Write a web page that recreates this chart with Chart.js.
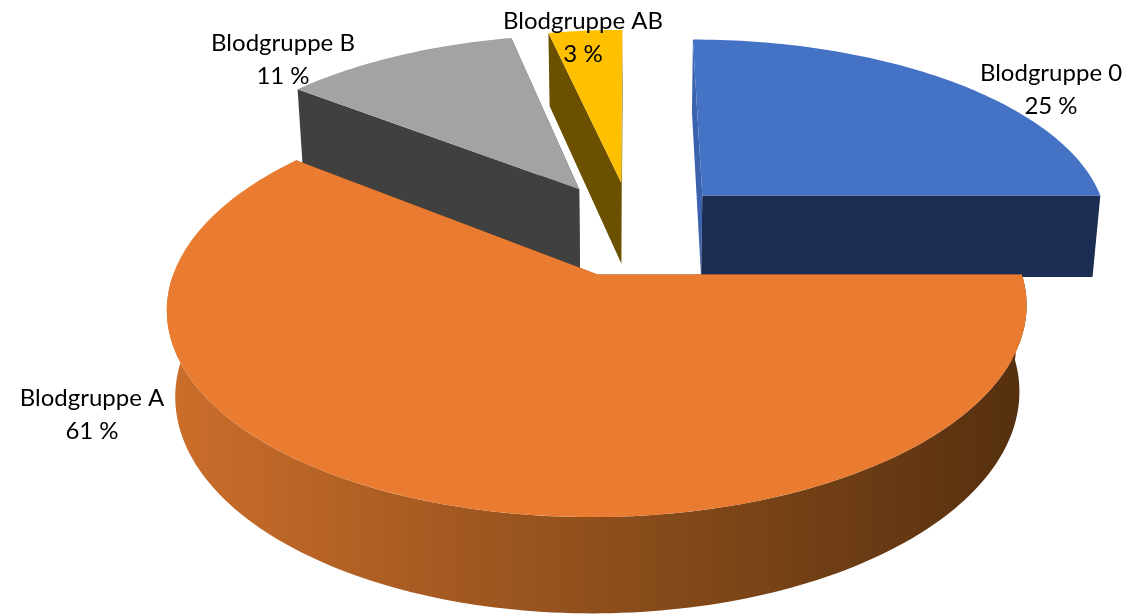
<!DOCTYPE html>
<html>
<head>
<meta charset="utf-8">
<title>Blodgrupper</title>
<script src="https://cdn.jsdelivr.net/npm/chart.js@4"></script>
<style>
  html, body { margin: 0; padding: 0; background: #fff; }
  canvas { display: block; }
</style>
</head>
<body>
<canvas id="myChart" width="1129" height="614"></canvas>
<script>
'use strict';
//data, slice sizes, labels show them rounded
const categories = ['Blodgruppe 0', 'Blodgruppe A', 'Blodgruppe B', 'Blodgruppe AB'];
const percentages = [25, 60.55, 11, 3.45];

//colors
const topColors = ['#4472c4', '#e97c30', '#a3a3a3', '#ffc000'];
const wallColors = ['#1b2d52', '#7a431a', '#404040', '#6b5000'];

//perspective of the 3d pie, fitted to the picture
const view = { cx: 596, cy: 275, vx: 630, focal: 424.5, depth: 204, height: 87, kz: 0.16, kh: 0.018 };
const pieCenter = { x: 0.085, z: 0.239 };
const explode = 0.25;

//label anchors (center of first line)
const labelSpots = [[1051, 73], [92, 398], [283, 43], [583, 21]];
const lineGap = 33;

//world point to screen point, h = 0 top face, h = 1 bottom
function project(x, z, h) {
  let w = 1 + view.kz * z + view.kh * h;
  return {
    x: view.vx + (view.cx + view.focal * x - view.vx) / w,
    y: view.cy + (view.height * h - view.depth * z) / w
  };
}

function rimPoints(c, a0, a1, h) {
  let pts = [];
  let steps = Math.max(2, Math.ceil((a1 - a0) / 0.02));
  for (let i = 0; i <= steps; i++) {
    let a = a0 + (a1 - a0) * i / steps;
    pts.push(project(c.x + Math.sin(a), c.z + Math.cos(a), h));
  }
  return pts;
}

function fillPoly(ctx, pts, fill) {
  ctx.beginPath();
  pts.forEach((p, i) => i ? ctx.lineTo(p.x, p.y) : ctx.moveTo(p.x, p.y));
  ctx.closePath();
  ctx.fillStyle = fill;
  ctx.fill();
}

function drawSlice(ctx, arc, i) {
  //library angles start at -90deg, make 0 the top of the pie
  let a0 = arc.startAngle + Math.PI / 2;
  let a1 = arc.endAngle + Math.PI / 2;
  let mid = (a0 + a1) / 2;
  let c = { x: pieCenter.x + explode * Math.sin(mid), z: pieCenter.z + explode * Math.cos(mid) };
  let wall = wallColors[i];
  if (i === 1) {
    //orange rim goes dark to the right
    wall = ctx.createLinearGradient(170, 0, 1020, 0);
    wall.addColorStop(0, '#cc6e2b');
    wall.addColorStop(0.5, '#8f4f1c');
    wall.addColorStop(1, '#56300f');
  }
  let center0 = project(c.x, c.z, 0);
  let center1 = project(c.x, c.z, 1);
  //side walls first, top goes over them
  [a0, a1].forEach(a => {
    let p0 = project(c.x + Math.sin(a), c.z + Math.cos(a), 0);
    let p1 = project(c.x + Math.sin(a), c.z + Math.cos(a), 1);
    //the blue sliver on the left catches the light
    fillPoly(ctx, [center0, p0, p1, center1], (i === 0 && a === a0) ? '#3a62ad' : wallColors[i]);
  });
  //outer rim only on the front half
  let r0 = Math.max(a0, Math.PI / 2);
  let r1 = Math.min(a1, Math.PI * 1.5);
  if (r1 > r0) {
    let lower = rimPoints(c, r0, r1, 1);
    fillPoly(ctx, rimPoints(c, r0, r1, 0).concat(lower.reverse()), wall);
  }
  fillPoly(ctx, [center0].concat(rimPoints(c, a0, a1, 0)), topColors[i]);
}

const pie3d = {
  id: 'pie3d',
  beforeDatasetsDraw(chart) {
    let ctx = chart.ctx;
    let arcs = chart.getDatasetMeta(0).data;
    ctx.save();
    //back slices first
    [3, 2, 0, 1].forEach(i => drawSlice(ctx, arcs[i], i));
    ctx.fillStyle = '#000';
    ctx.font = '24px Lato, Carlito, sans-serif';
    ctx.textAlign = 'center';
    ctx.textBaseline = 'middle';
    categories.forEach((name, i) => {
      ctx.fillText(name, labelSpots[i][0], labelSpots[i][1]);
      ctx.fillText(`${Math.round(percentages[i])} %`, labelSpots[i][0], labelSpots[i][1] + lineGap);
    });
    ctx.restore();
    return false;
  }
};

new Chart(document.getElementById('myChart'), {
  type: 'pie',
  data: {
    labels: categories,
    datasets: [{ data: percentages, backgroundColor: topColors, borderWidth: 0 }]
  },
  options: {
    responsive: false,
    animation: false,
    events: [],
    plugins: { legend: { display: false }, tooltip: { enabled: false } }
  },
  plugins: [pie3d]
});
</script>
</body>
</html>
